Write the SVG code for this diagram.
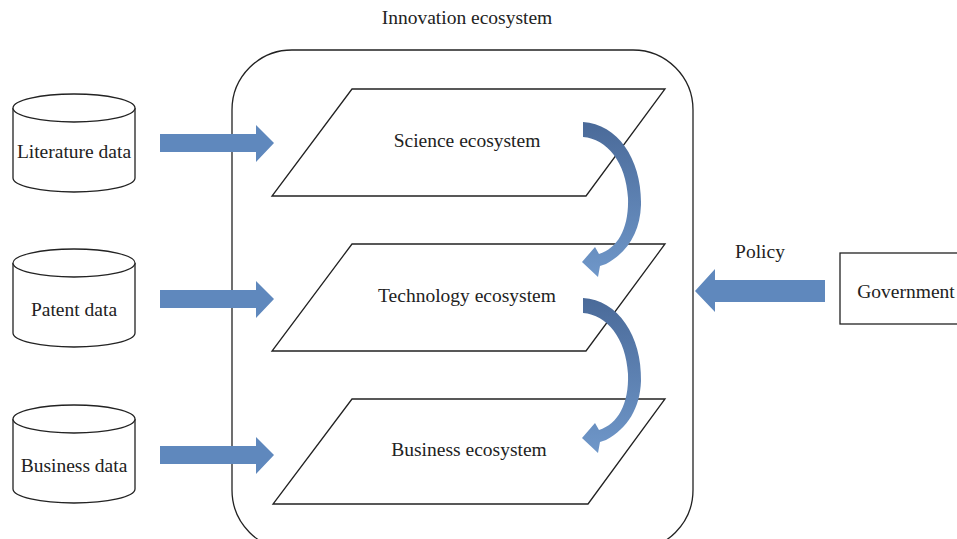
<svg xmlns="http://www.w3.org/2000/svg" width="957" height="539" viewBox="0 0 957 539">
<defs>
<linearGradient id="cg" x1="0" y1="0" x2="0" y2="1">
<stop offset="0" stop-color="#4a6a99"/>
<stop offset="1" stop-color="#6f97c9"/>
</linearGradient>
<style>
.ln{fill:#fff;stroke:#222;stroke-width:1.3}
.lab{font-family:'Liberation Serif','Times New Roman',serif;font-size:19.5px;fill:#222;text-anchor:middle}
.blk{fill:#5f88bd;stroke:none}
.cur{fill:url(#cg);stroke:none}
</style>
</defs>
<rect width="957" height="539" fill="#fff"/>
<g id="innovation">
<rect x="232" y="50" width="461" height="500" rx="60" ry="60" class="ln" fill="none"/>
<text x="467" y="24" class="lab" font-family="Liberation Serif, serif">Innovation ecosystem</text>
</g>
<g id="science">
<polygon points="352,89 665,89 586,196 272,196" class="ln"/>
<text x="467" y="147" class="lab" font-family="Liberation Serif, serif">Science ecosystem</text>
</g>
<g id="technology">
<polygon points="352,244 665,244 586,351 272,351" class="ln"/>
<text x="467" y="302" class="lab" font-family="Liberation Serif, serif">Technology ecosystem</text>
</g>
<g id="business">
<polygon points="352,399 665,399 588,504 273,504" class="ln"/>
<text x="469" y="456" class="lab" font-family="Liberation Serif, serif">Business ecosystem</text>
</g>
<g id="literature">
<path d="M13,108 V178 A61,14 0 0 0 135,178 V108" class="ln"/>
<ellipse cx="74" cy="108" rx="61" ry="14" class="ln"/>
<text x="74" y="158" class="lab" font-family="Liberation Serif, serif">Literature data</text>
</g>
<g id="patent">
<path d="M13,263 V333 A61,14 0 0 0 135,333 V263" class="ln"/>
<ellipse cx="74" cy="263" rx="61" ry="14" class="ln"/>
<text x="74" y="316" class="lab" font-family="Liberation Serif, serif">Patent data</text>
</g>
<g id="businessdata">
<path d="M13,419 V489 A61,14 0 0 0 135,489 V419" class="ln"/>
<ellipse cx="74" cy="419" rx="61" ry="14" class="ln"/>
<text x="74" y="472" class="lab" font-family="Liberation Serif, serif">Business data</text>
</g>
<g id="government">
<rect x="840" y="253" width="125" height="71" class="ln"/>
<text x="906" y="298" class="lab" font-family="Liberation Serif, serif">Government</text>
</g>
<g id="connectors">
<polygon class="blk" points="160,134 256,134 256,125 274,143 256,162 256,152 160,152"/>
<polygon class="blk" points="160,290 256,290 256,281 274,299 256,318 256,308 160,308"/>
<polygon class="blk" points="160,446 256,446 256,437 274,455 256,474 256,464 160,464"/>
<polygon class="blk" points="825,280 715,280 715,269 695,291 715,312 715,302 825,302"/>
<text x="760" y="258" class="lab" font-family="Liberation Serif, serif">Policy</text>
<path id="c1" class="cur" d="M583,122 C618,124 642,160 641,205 C640,232 628,252 606,264 L600,266 L598,277 L582,262 L595,247 L599,254 C618,248 629,228 628,198 C626,162 607,139 583,137 Z"/>
<use href="#c1" transform="translate(0,176)"/>
</g>
</svg>
